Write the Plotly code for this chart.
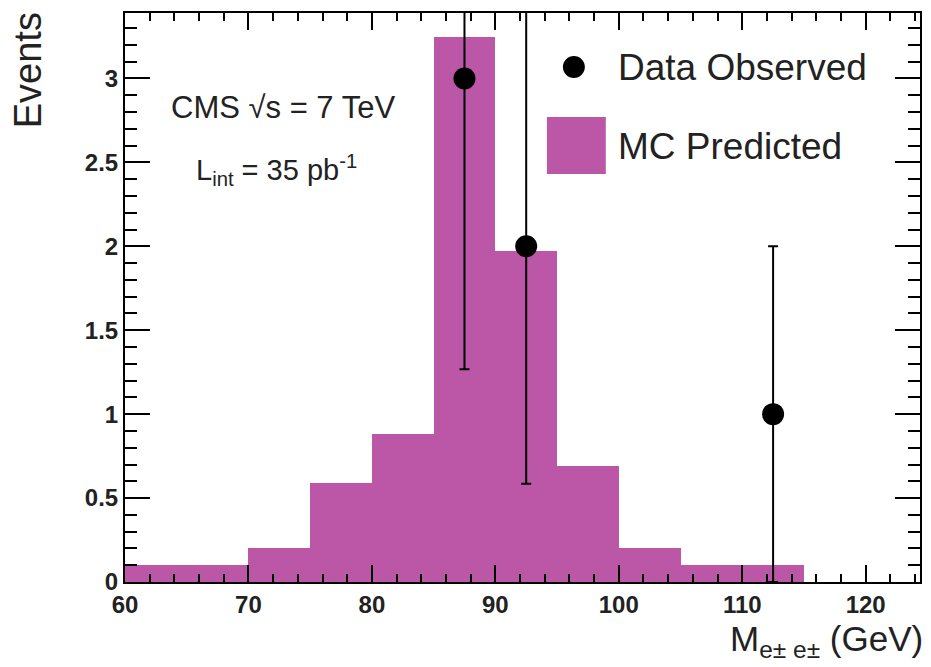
import plotly.graph_objects as go

# ---- data ----
bin_edges = [60, 65, 70, 75, 80, 85, 90, 95, 100, 105, 110, 115]
mc_counts = [0.1, 0.1, 0.2, 0.59, 0.88, 3.25, 1.97, 0.69, 0.2, 0.1, 0.1]
data_x = [87.5, 92.5, 112.5]
data_y = [3, 2, 1]
data_err = [1.732, 1.414, 1.0]

x_ticks = [60, 70, 80, 90, 100, 110, 120]
y_ticks = [0, 0.5, 1, 1.5, 2, 2.5, 3]
y_ticklabels = ["0", "0.5", "1", "1.5", "2", "2.5", "3"]

MAGENTA = "#BC56A6"
FONT = "Liberation Sans"

# ---- layout geometry (pixels) ----
W, H = 931, 667
L, R, T, B = 125, 9, 13, 85
PW, PH = W - L - R, H - T - B


def paper(xp, yp):
    return (xp - L) / PW, 1 - (yp - T) / PH


centers = [(a + b) / 2 for a, b in zip(bin_edges[:-1], bin_edges[1:])]
widths = [b - a for a, b in zip(bin_edges[:-1], bin_edges[1:])]

fig = go.Figure()
fig.add_trace(go.Bar(
    x=centers, y=mc_counts, width=widths,
    marker=dict(color=MAGENTA, line=dict(width=0)),
    name="MC Predicted", showlegend=False,
))
fig.add_trace(go.Scatter(
    x=data_x, y=data_y, mode="markers",
    marker=dict(color="black", size=22, symbol="circle"),
    error_y=dict(type="data", array=data_err, color="black", thickness=2, width=5),
    name="Data Observed", showlegend=False, cliponaxis=True,
))

tickfont = dict(family=FONT, size=24, color="#222", weight="bold")

fig.update_xaxes(
    range=[60, 124.4], tickvals=x_ticks, ticktext=[str(v) for v in x_ticks],
    ticks="inside", ticklen=17, tickwidth=2, tickcolor="black",
    showline=True, linecolor="black", linewidth=2, mirror="allticks",
    showgrid=False, zeroline=False, tickfont=tickfont,
    minor=dict(dtick=2, tick0=60, ticks="inside", ticklen=8, tickwidth=2,
               tickcolor="black", showgrid=False),
)
fig.update_yaxes(
    range=[0, 3.39], tickvals=y_ticks, ticktext=y_ticklabels,
    ticks="inside", ticklen=25, tickwidth=2, tickcolor="black",
    showline=True, linecolor="black", linewidth=2, mirror="allticks",
    showgrid=False, zeroline=False, tickfont=tickfont,
    minor=dict(dtick=0.1, tick0=0, ticks="inside", ticklen=12, tickwidth=2,
               tickcolor="black", showgrid=False),
)

annotations = []
# Y title
ex, ey = paper(28, 70)
annotations.append(dict(x=ex, y=ey, xref="paper", yref="paper", text="Events",
                        textangle=-90, showarrow=False, xanchor="center", yanchor="middle",
                        font=dict(family=FONT, size=38, color="#222")))
# X title
tx, ty = paper(927, 641)
annotations.append(dict(x=tx, y=ty, xref="paper", yref="paper",
                        text="M<sub>e± e±</sub> (GeV)",
                        showarrow=False, xanchor="right", yanchor="middle",
                        font=dict(family=FONT, size=35, color="#222")))
# CMS labels
cx, cy = paper(283, 107)
annotations.append(dict(x=cx, y=cy, xref="paper", yref="paper",
                        text="CMS √s = 7 TeV", showarrow=False,
                        xanchor="center", yanchor="middle",
                        font=dict(family=FONT, size=31, color="#222")))
lx, ly = paper(277, 170)
annotations.append(dict(x=lx, y=ly, xref="paper", yref="paper",
                        text="L<sub>int</sub> = 35 pb<sup>-1</sup>", showarrow=False,
                        xanchor="center", yanchor="middle",
                        font=dict(family=FONT, size=29, color="#222")))
# Legend text
d1x, d1y = paper(617, 68)
annotations.append(dict(x=d1x, y=d1y, xref="paper", yref="paper",
                        text="Data Observed", showarrow=False,
                        xanchor="left", yanchor="middle",
                        font=dict(family=FONT, size=37, color="#222")))
d2x, d2y = paper(617, 146)
annotations.append(dict(x=d2x, y=d2y, xref="paper", yref="paper",
                        text="MC Predicted", showarrow=False,
                        xanchor="left", yanchor="middle",
                        font=dict(family=FONT, size=37, color="#222")))

shapes = []
# legend circle
c0x, c0y = paper(564, 56)
c1x, c1y = paper(586, 78)
shapes.append(dict(type="circle", xref="paper", yref="paper",
                   x0=c0x, y0=c1y, x1=c1x, y1=c0y,
                   fillcolor="black", line=dict(width=0)))
# legend box
s0x, s0y = paper(548, 117)
s1x, s1y = paper(607, 174)
shapes.append(dict(type="rect", xref="paper", yref="paper",
                   x0=s0x, y0=s1y, x1=s1x, y1=s0y,
                   fillcolor=MAGENTA, line=dict(width=0)))

fig.update_layout(
    width=W, height=H,
    margin=dict(l=L, r=R, t=T, b=B),
    plot_bgcolor="white", paper_bgcolor="white",
    bargap=0, showlegend=False,
    annotations=annotations, shapes=shapes,
    font=dict(family=FONT),
)

fig.write_html("out.html")
